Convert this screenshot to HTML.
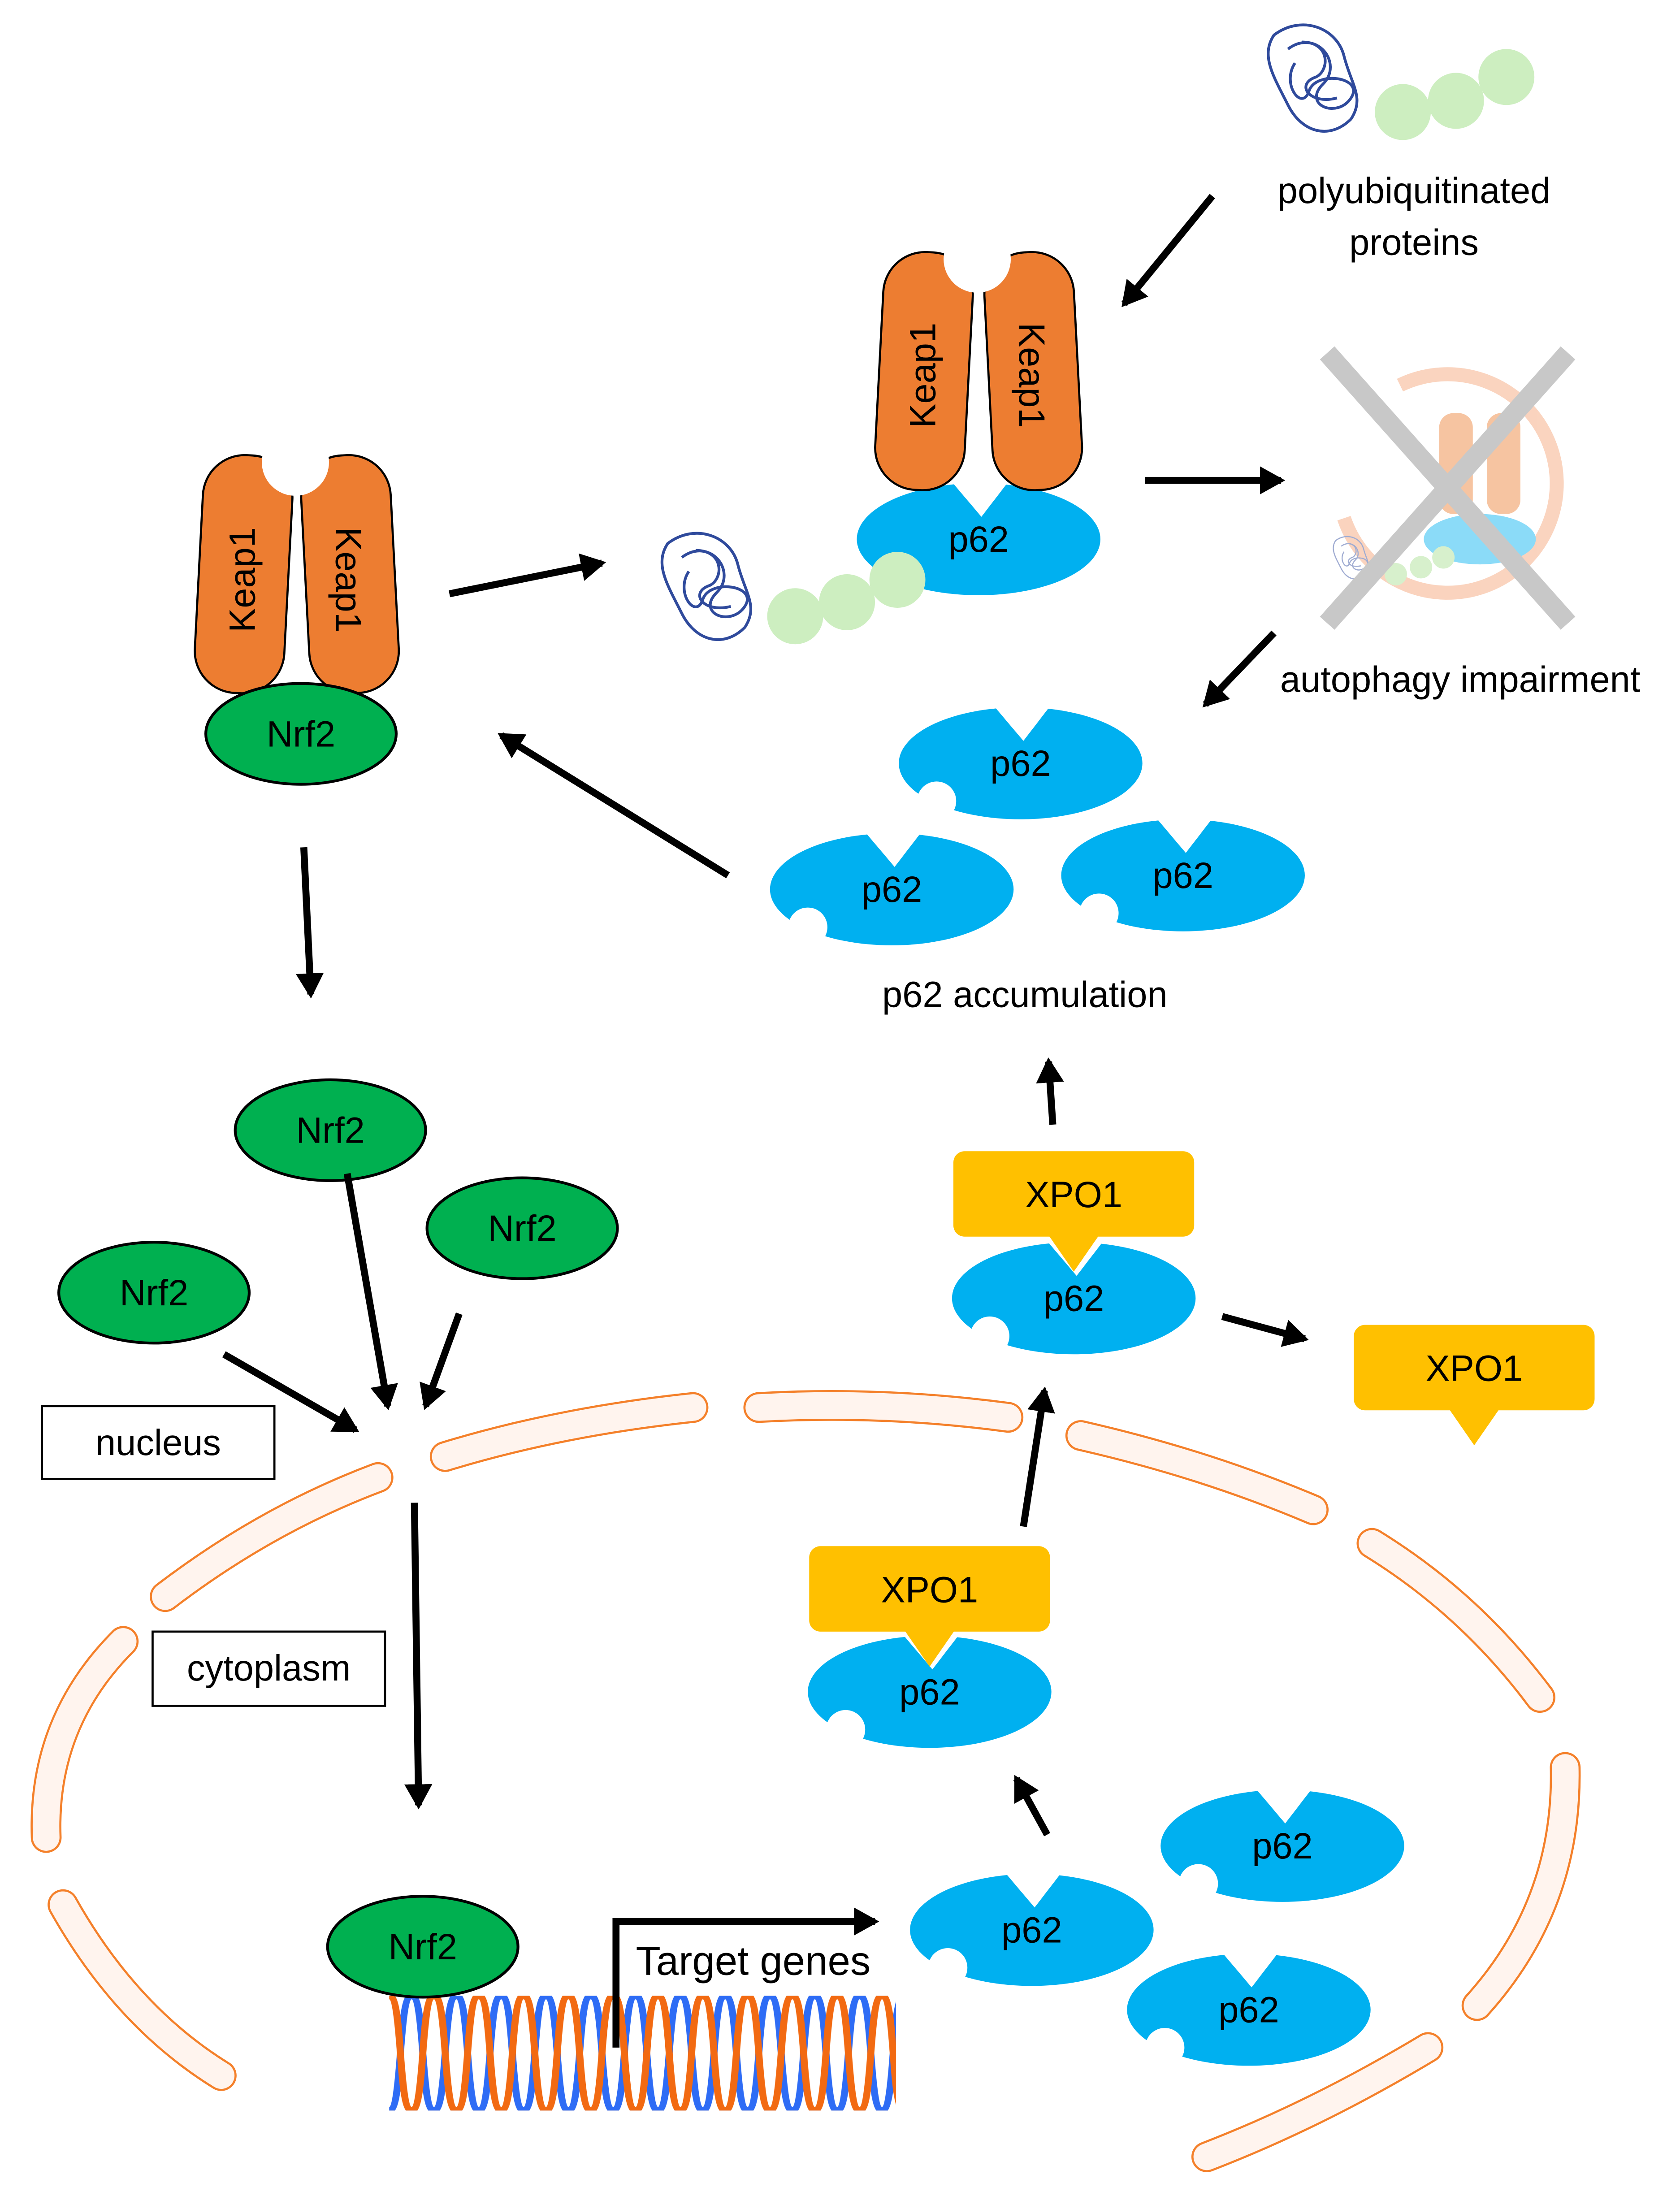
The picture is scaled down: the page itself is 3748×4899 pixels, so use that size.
<!DOCTYPE html>
<html><head><meta charset="utf-8"><style>html,body{margin:0;padding:0;background:#fff}svg{display:block}</style></head>
<body>
<svg width="3748" height="4899" viewBox="0 0 1200 1568" preserveAspectRatio="none" xmlns="http://www.w3.org/2000/svg" font-family="Liberation Sans, sans-serif">
<defs>
<marker id="ah" markerWidth="5" markerHeight="5" refX="3" refY="2" orient="auto" markerUnits="strokeWidth"><path d="M0,0 L3.6,2 L0,4 z" fill="#000"/></marker>
<pattern id="dna" x="278" y="1425" width="32" height="82" patternUnits="userSpaceOnUse">
<path d="M0,82 C10,82 6,0 16,0 C26,0 22,82 32,82" fill="none" stroke="#2e6cf5" stroke-width="5"/>
<path d="M0,0 C10,0 6,82 16,82 C26,82 22,0 32,0" fill="none" stroke="#f26a12" stroke-width="5"/>
</pattern>
<g id="p62">
<ellipse cx="0" cy="0" rx="87" ry="40" fill="#00b0f0"/>
<polygon points="-20,-42 22,-42 2,-16" fill="#fff"/>
<circle cx="-60" cy="27" r="14" fill="#fff"/>
</g>
<g id="keap">
<rect x="0" y="0" width="64" height="170" rx="30" fill="#ed7d31" stroke="#000" stroke-width="1.5"/>
</g>
<g id="xpo">
<rect x="0" y="0" width="172" height="61" rx="8" fill="#ffc000"/>
<polygon points="68,60 104,60 86,86" fill="#ffc000"/>
</g>
<g id="prot" fill="none" stroke="#2f4a9c" stroke-width="2">
<path d="M5,10 C25,-5 50,5 55,25 C60,45 70,55 60,70 C45,85 25,80 15,60 C5,40 -5,25 5,10 Z"/>
<path d="M15,20 C35,5 55,30 40,45 C25,60 50,70 60,55 C70,40 35,35 30,50 C25,65 10,45 20,30"/>
<path d="M25,15 C45,15 45,35 35,40 C20,45 30,60 50,55"/>
</g>
</defs>
<rect width="1200" height="1568" fill="#fff"/>

<g fill="none" stroke-linecap="round">
<g stroke="#f4802a" stroke-width="22">
<path d="M118,1140 Q190,1085 270,1055"/>
<path d="M318,1040 Q400,1015 495,1005"/>
<path d="M542,1005 Q630,1000 720,1012"/>
<path d="M772,1025 Q860,1045 938,1078"/>
<path d="M980,1102 Q1050,1145 1100,1212"/>
<path d="M1118,1262 Q1120,1360 1055,1432"/>
<path d="M1020,1462 Q940,1510 862,1540"/>
<path d="M88,1172 Q30,1230 33,1312"/>
<path d="M45,1360 Q90,1440 158,1482"/>
</g>
<g stroke="#fff4ee" stroke-width="19">
<path d="M118,1140 Q190,1085 270,1055"/>
<path d="M318,1040 Q400,1015 495,1005"/>
<path d="M542,1005 Q630,1000 720,1012"/>
<path d="M772,1025 Q860,1045 938,1078"/>
<path d="M980,1102 Q1050,1145 1100,1212"/>
<path d="M1118,1262 Q1120,1360 1055,1432"/>
<path d="M1020,1462 Q940,1510 862,1540"/>
<path d="M88,1172 Q30,1230 33,1312"/>
<path d="M45,1360 Q90,1440 158,1482"/>
</g>
</g>

<g transform="translate(142,325) rotate(3 32 85)"><use href="#keap"/></g>
<g transform="translate(218,325) rotate(-3 32 85)"><use href="#keap"/></g>
<circle cx="211" cy="330" r="24" fill="#fff"/>
<text transform="translate(182,414) rotate(-90)" font-size="26" text-anchor="middle">Keap1</text>
<text transform="translate(240,414) rotate(90)" font-size="26" text-anchor="middle">Keap1</text>
<ellipse cx="215" cy="524" rx="68" ry="36" fill="#00b050" stroke="#000" stroke-width="2"/>
<text x="215" y="533" font-size="26" text-anchor="middle">Nrf2</text>

<use href="#p62" x="699" y="385"/>
<g transform="translate(628,180) rotate(3 32 85)"><use href="#keap"/></g>
<g transform="translate(706,180) rotate(-3 32 85)"><use href="#keap"/></g>
<circle cx="698" cy="185" r="24" fill="#fff"/>
<text transform="translate(668,268) rotate(-90)" font-size="26" text-anchor="middle">Keap1</text>
<text transform="translate(728,268) rotate(90)" font-size="26" text-anchor="middle">Keap1</text>
<text x="699" y="394" font-size="26" text-anchor="middle">p62</text>

<circle cx="568" cy="440" r="20" fill="#cdeec0"/><circle cx="605" cy="430" r="20" fill="#cdeec0"/><circle cx="641" cy="414" r="20" fill="#cdeec0"/>
<g transform="translate(472,378)"><use href="#prot"/></g>
<circle cx="1002" cy="80" r="20" fill="#cdeec0"/><circle cx="1040" cy="72" r="20" fill="#cdeec0"/><circle cx="1076" cy="55" r="20" fill="#cdeec0"/>
<g transform="translate(905,15)"><use href="#prot"/></g>
<text x="1010" y="145" font-size="26" text-anchor="middle">polyubiquitinated</text>
<text x="1010" y="182" font-size="26" text-anchor="middle">proteins</text>

<g opacity="0.45">
<path d="M1000,275 A78,78 0 1 1 960,370" fill="none" stroke="#f4a070" stroke-width="10"/>
<ellipse cx="1057" cy="385" rx="40" ry="18" fill="#00b0f0"/>
<rect x="1028" y="295" width="24" height="72" rx="10" fill="#ed7d31"/>
<rect x="1062" y="295" width="24" height="72" rx="10" fill="#ed7d31"/>
<circle cx="997" cy="410" r="8" fill="#a8e090"/><circle cx="1015" cy="405" r="8" fill="#a8e090"/><circle cx="1031" cy="398" r="8" fill="#a8e090"/>
<g transform="translate(952,382) scale(0.4)"><use href="#prot"/></g>
</g>
<g stroke="#c8c8c8" stroke-width="14">
<line x1="948" y1="252" x2="1120" y2="445"/><line x1="1120" y1="252" x2="948" y2="445"/>
</g>
<text x="1043" y="494" font-size="26" text-anchor="middle">autophagy impairment</text>

<use href="#p62" x="729" y="545"/><text x="729" y="554" font-size="26" text-anchor="middle">p62</text>
<use href="#p62" x="637" y="635"/><text x="637" y="644" font-size="26" text-anchor="middle">p62</text>
<use href="#p62" x="845" y="625"/><text x="845" y="634" font-size="26" text-anchor="middle">p62</text>
<text x="732" y="719" font-size="26" text-anchor="middle">p62 accumulation</text>

<use href="#p62" x="767" y="927"/><text x="767" y="936" font-size="26" text-anchor="middle">p62</text>
<use href="#xpo" x="681" y="822"/><text x="767" y="862" font-size="26" text-anchor="middle">XPO1</text>
<use href="#xpo" x="967" y="946"/><text x="1053" y="986" font-size="26" text-anchor="middle">XPO1</text>
<use href="#p62" x="664" y="1208"/><text x="664" y="1217" font-size="26" text-anchor="middle">p62</text>
<use href="#xpo" x="578" y="1104"/><text x="664" y="1144" font-size="26" text-anchor="middle">XPO1</text>

<use href="#p62" x="916" y="1318"/><text x="916" y="1327" font-size="26" text-anchor="middle">p62</text>
<use href="#p62" x="737" y="1378"/><text x="737" y="1387" font-size="26" text-anchor="middle">p62</text>
<use href="#p62" x="892" y="1435"/><text x="892" y="1444" font-size="26" text-anchor="middle">p62</text>

<ellipse cx="236" cy="807" rx="68" ry="36" fill="#00b050" stroke="#000" stroke-width="2"/><text x="236" y="816" font-size="26" text-anchor="middle">Nrf2</text>
<ellipse cx="373" cy="877" rx="68" ry="36" fill="#00b050" stroke="#000" stroke-width="2"/><text x="373" y="886" font-size="26" text-anchor="middle">Nrf2</text>
<ellipse cx="110" cy="923" rx="68" ry="36" fill="#00b050" stroke="#000" stroke-width="2"/><text x="110" y="932" font-size="26" text-anchor="middle">Nrf2</text>

<rect x="30" y="1004" width="166" height="52" fill="#fff" stroke="#000" stroke-width="1.5"/><text x="113" y="1039" font-size="26" text-anchor="middle">nucleus</text>
<rect x="109" y="1165" width="166" height="53" fill="#fff" stroke="#000" stroke-width="1.5"/><text x="192" y="1200" font-size="26" text-anchor="middle">cytoplasm</text>

<rect x="278" y="1425" width="362" height="82" fill="url(#dna)"/>
<ellipse cx="302" cy="1390" rx="68" ry="36" fill="#00b050" stroke="#000" stroke-width="2"/><text x="302" y="1399" font-size="26" text-anchor="middle">Nrf2</text>
<path d="M440,1462 L440,1372 L625,1372" fill="none" stroke="#000" stroke-width="5" marker-end="url(#ah)"/>
<text x="538" y="1410" font-size="29" text-anchor="middle">Target genes</text>

<g stroke="#000" stroke-width="5" fill="none" marker-end="url(#ah)">
<line x1="321" y1="424" x2="430" y2="402"/>
<line x1="866" y1="140" x2="803" y2="217"/>
<line x1="818" y1="343" x2="915" y2="343"/>
<line x1="910" y1="452" x2="861" y2="503"/>
<line x1="520" y1="625" x2="358" y2="525"/>
<line x1="752" y1="803" x2="749" y2="758"/>
<line x1="873" y1="940" x2="932" y2="956"/>
<line x1="731" y1="1090" x2="746" y2="993"/>
<line x1="748" y1="1310" x2="726" y2="1270"/>
<line x1="217" y1="605" x2="222" y2="710"/>
<line x1="248" y1="838" x2="277" y2="1004"/>
<line x1="328" y1="938" x2="304" y2="1004"/>
<line x1="160" y1="967" x2="254" y2="1021"/>
<line x1="296" y1="1073" x2="299" y2="1289"/>
</g>
</svg>
</body></html>
